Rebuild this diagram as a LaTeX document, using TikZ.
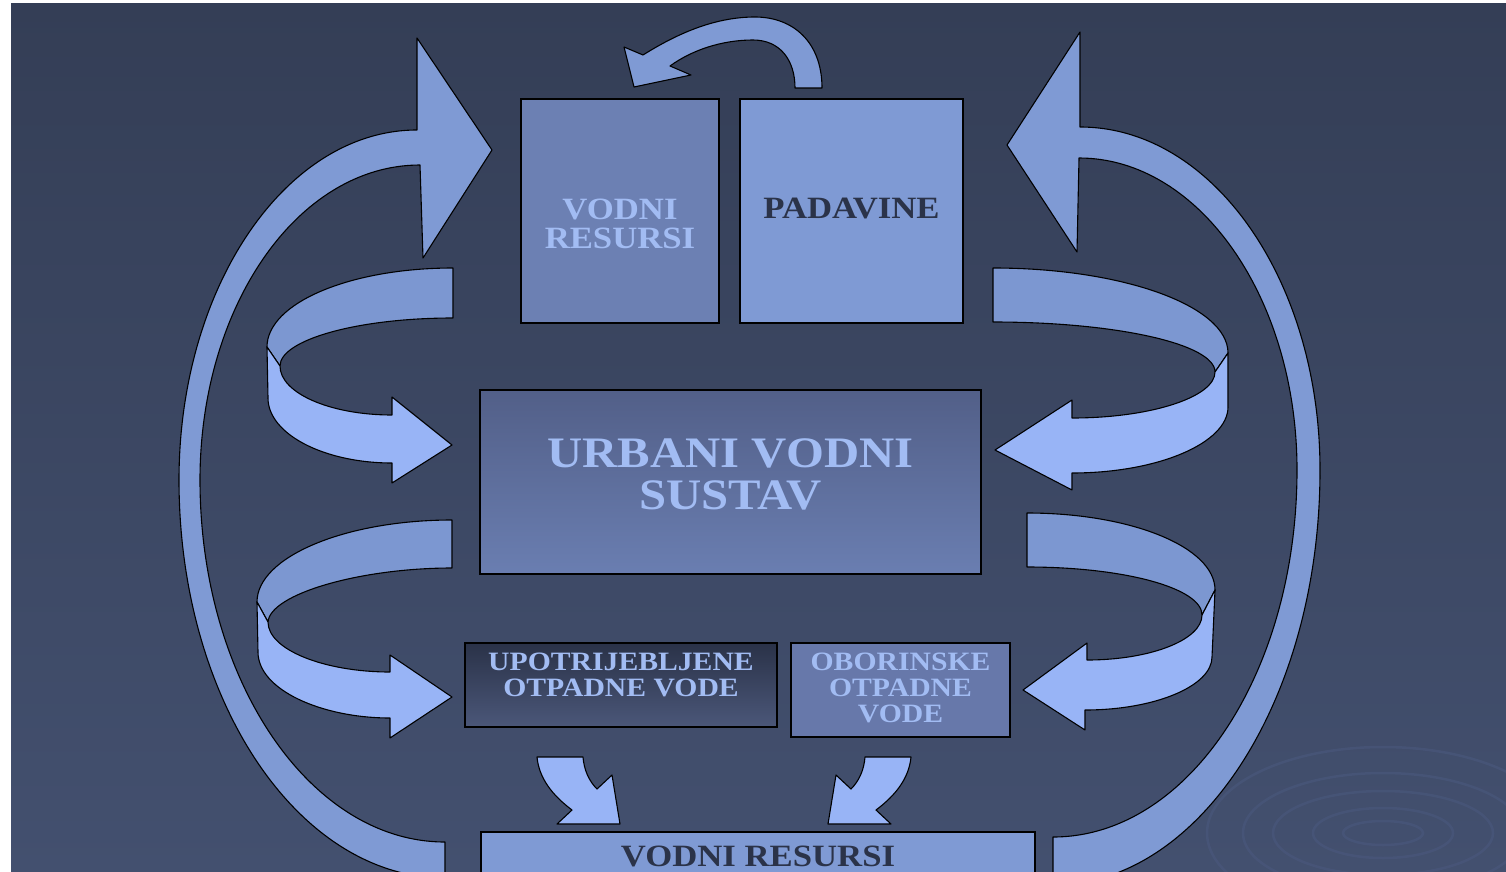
\documentclass[tikz,border=0pt]{standalone}
\usepackage{fontspec}
\setmainfont{Liberation Serif}[FakeStretch=1.12]
\usepackage{tikz}

\definecolor{bgtop}{HTML}{343E56}
\definecolor{bgbot}{HTML}{43506F}
\definecolor{ripplecol}{HTML}{4A587D}
\definecolor{arrowfill}{HTML}{7F9AD4}
\definecolor{ribbonback}{HTML}{7C97D1}
\definecolor{ribbonfront}{HTML}{98B4F6}
\definecolor{lighttext}{HTML}{A2BCF3}
\definecolor{darktext}{HTML}{2B3349}
\definecolor{resfill}{HTML}{6C80B3}
\definecolor{urbtop}{HTML}{525F88}
\definecolor{urbbot}{HTML}{6A7EB1}
\definecolor{usedtop}{HTML}{2A3248}
\definecolor{usedbot}{HTML}{4B5779}
\definecolor{rainfill}{HTML}{6778AA}

\begin{document}
\begin{tikzpicture}[x=1pt,y=-1pt,
	box/.style={shape=rectangle,draw=black,line width=2pt,inner sep=0pt},
	lbl/.style={align=center,inner sep=0pt,font=\bfseries\fontsize{31}{29}\selectfont},
	blockarrow/.style={draw=black,line width=1.1pt,line join=round,fill=arrowfill},
	ribbonb/.style={blockarrow,fill=ribbonback},
	ribbonf/.style={blockarrow,fill=ribbonfront},
	ripple/.style={draw=ripplecol,line width=2.5pt,opacity=0.6}]
	
	\clip (0,0) rectangle (1506,872);
	\fill[white] (0,0) rectangle (1506,872);
	\shade[top color=bgtop,bottom color=bgbot] (11,4) rectangle (1506,872);
	\foreach \rx/\ry in {40/12,70/25,110/42,140/60,176/86}
		\draw[ripple] (1383,833) ellipse ({\rx} and {\ry});
	
	% big arcs round the whole system
	\draw[blockarrow] (445,842) .. controls (310,842) and (200,680) .. (200,480)
		.. controls (200,306) and (298,165) .. (420,165) -- (423,258) -- (492,150) -- (417,38) -- (417,130)
		.. controls (286,130) and (179,287) .. (179,480) .. controls (179,700) and (298,878) .. (445,878) -- cycle;
	\draw[blockarrow] (1053,837) .. controls (1188,837) and (1297,673) .. (1297,470)
		.. controls (1297,298) and (1199,158) .. (1079,158) -- (1077,252) -- (1007,145) -- (1080,32) -- (1080,127)
		.. controls (1213,127) and (1320,281) .. (1320,470) .. controls (1320,699) and (1200,885) .. (1053,885) -- cycle;
	
	\node[box,fill=resfill,minimum width=198pt,minimum height=224pt] (restop) at (620,211) {};
	\node[box,fill=arrowfill,minimum width=223pt,minimum height=224pt] (rain) at (851.5,211) {};
	\node[box,top color=urbtop,bottom color=urbbot,minimum width=501pt,minimum height=184pt] (urban) at (730.5,482) {};
	\node[box,top color=usedtop,bottom color=usedbot,minimum width=312pt,minimum height=84pt] (used) at (621,685) {};
	\node[box,fill=rainfill,minimum width=219pt,minimum height=94pt] (storm) at (900.5,690) {};
	\node[box,fill=arrowfill,minimum width=554pt,minimum height=80pt] (resbot) at (758,872) {};
	
	\node[lbl,text=lighttext] (restoptext) at (620,224) {VODNI\\RESURSI};
	\node[lbl,text=darktext] (raintext) at (851.5,209) {PADAVINE};
	\node[lbl,text=lighttext,font=\bfseries\fontsize{43.5}{42}\selectfont] (urbantext) at (730.5,474) {URBANI VODNI\\SUSTAV};
	\node[lbl,text=lighttext,font=\bfseries\fontsize{26.5}{26}\selectfont] (usedtext) at (621,675) {UPOTRIJEBLJENE\\OTPADNE VODE};
	\node[lbl,text=lighttext,font=\bfseries\fontsize{26.5}{26}\selectfont] (stormtext) at (900.5,688) {OBORINSKE\\OTPADNE\\VODE};
	\node[lbl,text=darktext] (resbottext) at (758,856) {VODNI RESURSI};
	
	% curl from padavine back to resursi
	\draw[blockarrow] (822,88) .. controls (822,42) and (793,17) .. (755,17) .. controls (713,17) and (675,35) .. (643,55)
		-- (624,47) -- (634,87) -- (691,75) -- (670,66) .. controls (692,50) and (722,40) .. (753,40)
		.. controls (780,40) and (795,60) .. (795,88) -- cycle;
	
	% ribbons, left side
	\draw[ribbonb] (453,268) .. controls (350,268) and (267,303) .. (267,347) -- (280,366)
		.. controls (280,340) and (357,318) .. (453,318) -- cycle;
	\draw[ribbonf] (267,347) -- (268,398) .. controls (268,434) and (324,463) .. (392,463) -- (392,483) -- (452,445)
		-- (392,397) -- (392,415) .. controls (330,415) and (280,393) .. (280,366) -- cycle;
	\draw[ribbonb] (452,520) .. controls (345,520) and (257,557) .. (257,602) -- (268,622)
		.. controls (270,594) and (360,568) .. (452,568) -- cycle;
	\draw[ribbonf] (257,602) -- (258,652) .. controls (258,690) and (322,718) .. (390,718) -- (390,738) -- (452,697)
		-- (390,655) -- (390,672) .. controls (325,672) and (268,650) .. (268,622) -- cycle;
	
	% ribbons, right side
	\draw[ribbonb] (993,268) .. controls (1123,268) and (1228,306) .. (1228,353) -- (1215,372)
		.. controls (1215,344) and (1116,322) .. (993,322) -- cycle;
	\draw[ribbonf] (1228,353) -- (1228,407) .. controls (1228,443) and (1158,473) .. (1072,473) -- (1072,490) -- (995,450)
		-- (1072,400) -- (1072,418) .. controls (1151,418) and (1215,397) .. (1215,372) -- cycle;
	\draw[ribbonb] (1027,513) .. controls (1131,513) and (1215,547) .. (1215,590) -- (1202,615)
		.. controls (1202,588) and (1124,567) .. (1027,567) -- cycle;
	\draw[ribbonf] (1215,590) -- (1212,657) .. controls (1212,686) and (1155,710) .. (1085,710) -- (1085,730) -- (1023,690)
		-- (1087,643) -- (1087,660) .. controls (1150,660) and (1202,640) .. (1202,615) -- cycle;
	
	% small arrows into the bottom resources
	\draw[ribbonf] (537,757) -- (583,757) .. controls (584,770) and (589,781) .. (597,789) -- (612,775) -- (620,824)
		-- (557,824) -- (572,810) .. controls (552,795) and (539,778) .. (537,757) -- cycle;
	\draw[ribbonf] (911,757) -- (865,757) .. controls (864,770) and (859,781) .. (851,789) -- (836,775) -- (828,824)
		-- (891,824) -- (876,810) .. controls (896,795) and (909,778) .. (911,757) -- cycle;
	
\end{tikzpicture}
\end{document}
